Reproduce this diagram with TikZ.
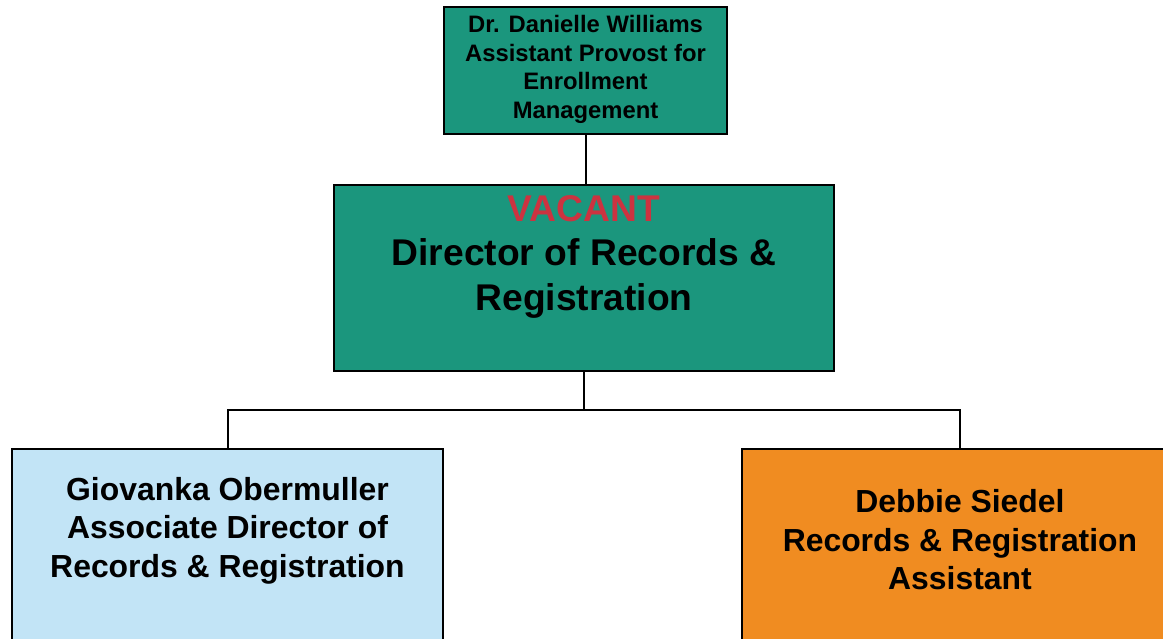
\documentclass[tikz,border=0pt]{standalone}
\usepackage{fontspec}
\setmainfont{Liberation Sans}
\definecolor{teal1}{HTML}{1B967D}
\definecolor{vacred}{HTML}{CC3340}
\definecolor{lblue}{HTML}{C2E4F6}
\definecolor{orng}{HTML}{F08C21}
\tikzset{
  box/.style={draw=black, line width=2pt, rectangle, inner sep=0pt},
  conn/.style={draw=black, line width=2pt},
  lineA/.style={anchor=base, inner sep=0pt, font=\fontsize{23.8}{28}\selectfont\bfseries},
  lineB/.style={anchor=base, inner sep=0pt, font=\fontsize{37.2}{44}\selectfont\bfseries},
  lineC/.style={anchor=base, inner sep=0pt, font=\fontsize{31.9}{38}\selectfont\bfseries},
}
\begin{document}
\begin{tikzpicture}[x=1pt,y=-1pt]
\useasboundingbox (0,0) rectangle (1163,638);
\clip (0,0) rectangle (1163,638);
% boxes
\node[box, fill=teal1, minimum width=283pt, minimum height=127pt] (top) at (585.5,70.5) {};
\node[box, fill=teal1, minimum width=500pt, minimum height=186pt] (dir) at (584,278) {};
\node[box, fill=lblue, minimum width=431pt, minimum height=251pt] (left) at (227.5,574.5) {};
\node[box, fill=orng, minimum width=436pt, minimum height=251pt] (right) at (960,574.5) {};
% connectors
\coordinate (j) at (584,410);
\draw[conn] (top.south) -- (top.south |- dir.north);
\draw[conn] (dir.south) -- (j);
\draw[conn] (left.north) |- (j) -| (right.north);
% top texts
\node[lineA] (t1) at (585.5,32.3) {Dr. Danielle Williams};
\node[lineA] (t2) at (585.5,61) {Assistant Provost for};
\node[lineA] (t3) at (585.5,89.5) {Enrollment};
\node[lineA] (t4) at (585.5,118.3) {Management};
% director texts
\node[lineB, text=vacred] (d1) at (584,221.7) {VACANT};
\node[lineB] (d2) at (584,265.5) {Director of Records \&};
\node[lineB] (d3) at (584,310) {Registration};
% left texts
\node[lineC] (l1) at (227.5,500) {Giovanka Obermuller};
\node[lineC] (l2) at (227.5,538.5) {Associate Director of};
\node[lineC] (l3) at (227.5,577) {Records \& Registration};
% right texts
\node[lineC] (r1) at (960,512) {Debbie Siedel};
\node[lineC] (r2) at (960,551) {Records \& Registration};
\node[lineC] (r3) at (960,589) {Assistant};
\end{tikzpicture}
\end{document}
